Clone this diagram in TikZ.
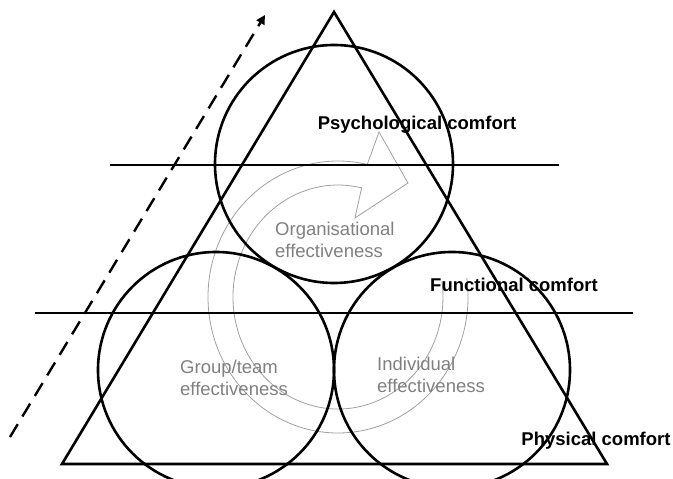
\documentclass[tikz,border=0pt]{standalone}
\usepackage{fontspec}
\setmainfont{Liberation Sans}
\usetikzlibrary{arrows.meta}
\definecolor{ringgrey}{RGB}{160,160,160}
\definecolor{textgrey}{RGB}{128,128,128}

\begin{document}
\begin{tikzpicture}[x=1pt, y=1pt,
  ring/.style={draw=black, line width=2.6pt},
  level/.style={draw=black, line width=1.2pt},
  spiral/.style={draw=ringgrey, line width=0.8pt, line join=miter},
  trend/.style={line width=2.4pt, dash pattern=on 15pt off 9pt, -{Triangle[length=9pt,width=9pt]}},
  comfort/.style={font=\fontsize{18.5}{22}\selectfont\bfseries, inner sep=0pt},
  effect/.style={font=\fontsize{18.5}{22}\selectfont, text=textgrey, align=left, anchor=west, inner sep=0pt}]
\path[use as bounding box, clip] (0,0) rectangle (673,479);

% Grey cycle arrow
\draw[spiral] (338,182) ++(8:130 and 136) arc[start angle=8, end angle=-283, x radius=130, y radius=136]
  -- (379,347) -- (408,296) -- (355,261) -- (361.6,291.1)
  arc[start angle=77, end angle=368, x radius=105, y radius=112];

% Triangle
\coordinate (apex) at (334,467);
\coordinate (left) at (62,15);
\coordinate (right) at (607,15);
\draw[ring, line join=miter] (apex) -- (left) -- (right) -- cycle;

% Circles
\draw[ring] (334,315) circle[radius=119];
\draw[ring] (216,109) circle[radius=118];
\draw[ring] (452,109) circle[radius=118];

% Levels
\draw[level] (110,314) -- (559,314);
\draw[level] (35,166) -- (633,166);

% Rising arrow
\coordinate (rise0) at (10,42);
\coordinate (rise1) at (265,464);
\draw[trend] (rise0) -- (rise1);

% Labels
\node[comfort] (psych) at (417,354) {Psychological comfort};
\node[comfort] (func) at (514,194) {Functional comfort};
\node[comfort] (phys) at (596,38) {Physical comfort};

\node[effect] (org) at (275,239) {Organisational\\effectiveness};
\node[effect] (grp) at (180,101.5) {Group/team\\effectiveness};
\node[effect] (ind) at (377,104.5) {Individual\\effectiveness};
\end{tikzpicture}
\end{document}
